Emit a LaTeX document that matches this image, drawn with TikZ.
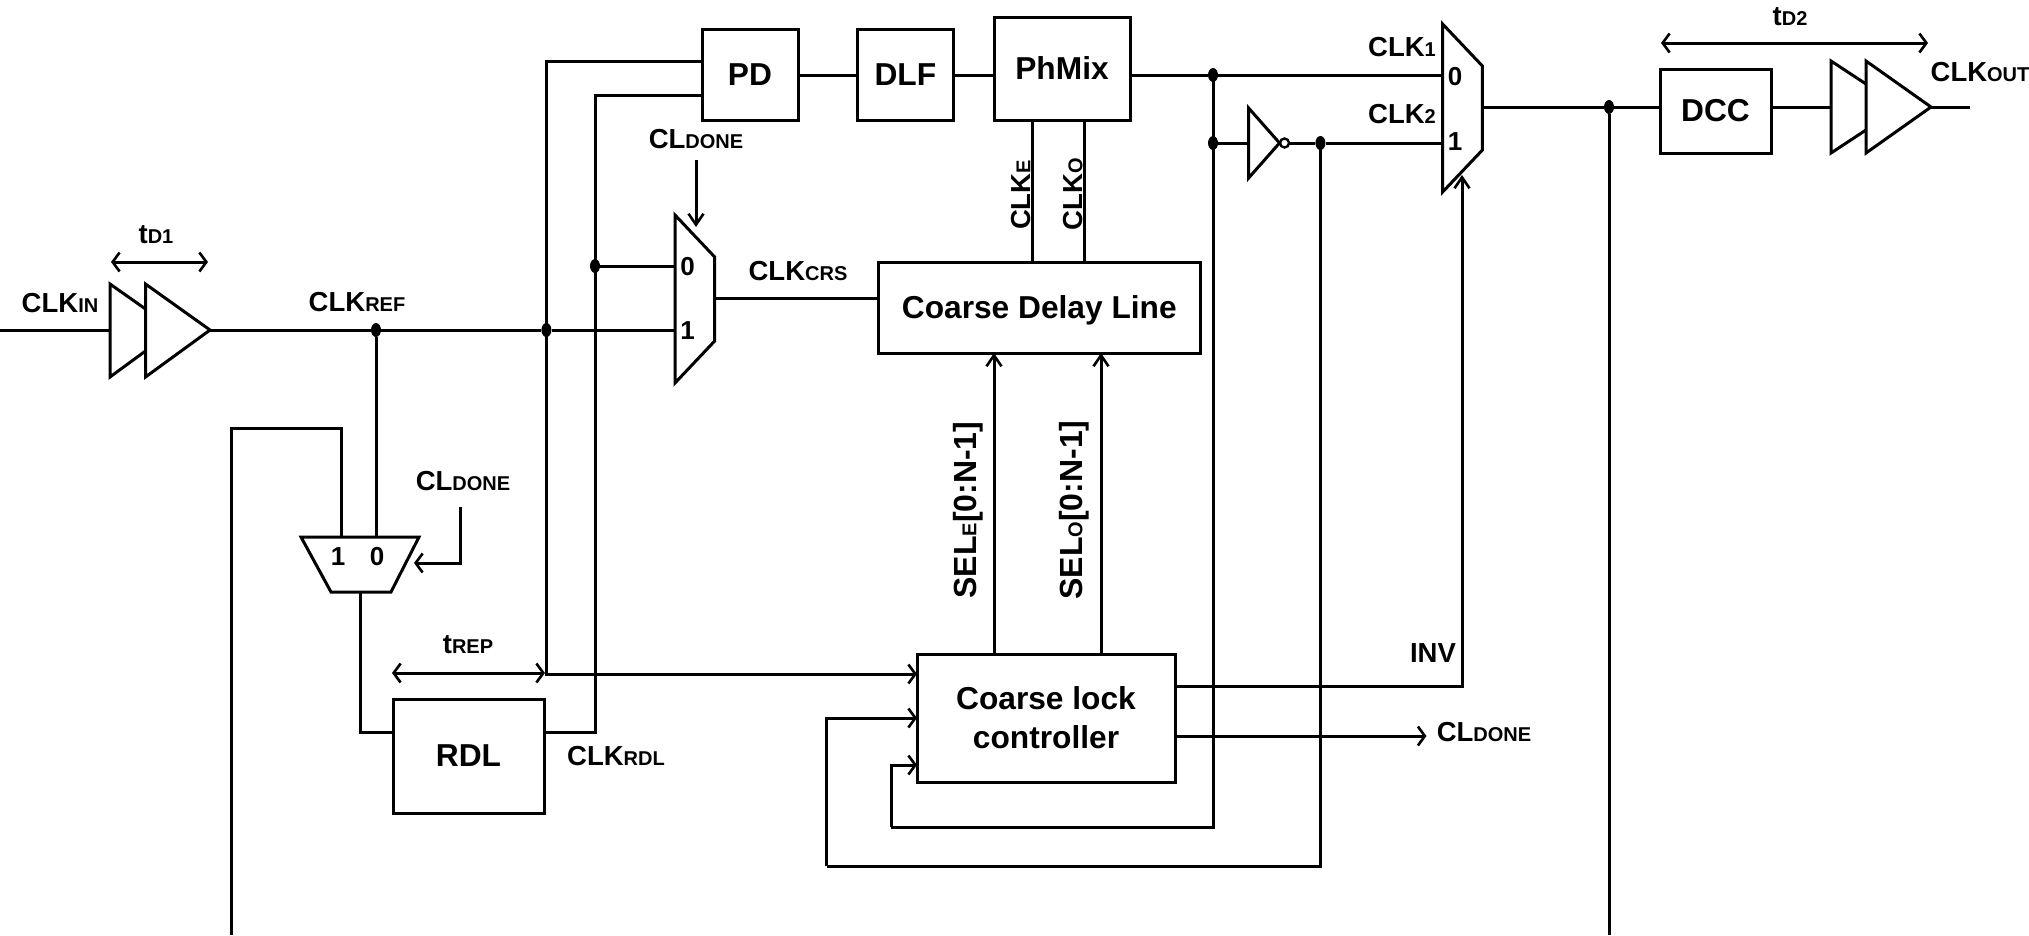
\documentclass[tikz,border=0pt]{standalone}
\usepackage{fontspec}
\setmainfont{Liberation Sans}
\usetikzlibrary{arrows.meta,shapes.geometric}
\newcommand{\sm}[1]{{\fontsize{20}{20}\selectfont #1}}
\tikzset{
  wire/.style={line width=3pt,line join=miter},
  barb/.tip={Straight Barb[length=7pt,width=19pt,line width=2.6pt]},
  barbup/.tip={Straight Barb[length=11pt,width=15pt,line width=2.6pt]},
  sig/.style={wire,-barb},
  sigup/.style={wire,-barbup},
  dbl/.style={wire,barb-barb},
  blockbox/.style={draw,line width=3pt,inner sep=0pt,outer sep=0pt,align=center,
    font=\fontsize{31.7}{39}\selectfont\bfseries},
  lbl/.style={inner sep=0pt,font=\fontsize{27.5}{30}\selectfont\bfseries},
  sellbl/.style={inner sep=0pt,font=\fontsize{32}{34}\selectfont\bfseries},
  digit/.style={inner sep=0pt,font=\fontsize{26}{30}\selectfont\bfseries},
  junction/.style={ellipse,fill=black,inner sep=0pt,minimum width=10pt,minimum height=14pt},
  gate/.style={wire,line join=miter,miter limit=4}
}
\begin{document}
\begin{tikzpicture}[x=1pt,y=-1pt]
\useasboundingbox (0,0) rectangle (2029,935);
\fill[white] (0,0) rectangle (2029,935);

% blocks
\node[blockbox,minimum width=96pt,minimum height=91pt] (pd) at (750,74.5) {PD};
\node[blockbox,minimum width=96.6pt,minimum height=91pt] (dlf) at (905.3,74.5) {DLF};
\node[blockbox,minimum width=136pt,minimum height=103pt] (phmix) at (1062,68.5) {PhMix};
\node[blockbox,minimum width=321.4pt,minimum height=91pt] (coarse) at (1039.3,307.5) {\raisebox{-2.5pt}[\height][\depth]{Coarse Delay Line}};
\node[blockbox,minimum width=258pt,minimum height=128pt] (lock) at (1046,718) {Coarse lock\\controller};
\node[blockbox,minimum width=151pt,minimum height=114pt] (rdl) at (468.5,756) {RDL};
\node[blockbox,minimum width=111pt,minimum height=84pt] (dcc) at (1715.5,111) {DCC};

% junction dots
\node[junction] (dref) at (376,330) {};
\node[junction] (dpd) at (546.4,330) {};
\node[junction] (dsel) at (595,266) {};
\node[junction] (dclka) at (1213,75) {};
\node[junction] (dclkb) at (1213,143) {};
\node[junction] (dinv) at (1320.4,143) {};
\node[junction] (dout) at (1609,107) {};

% free ends and gate pins
\coordinate (clkin) at (0,330);
\coordinate (bufa) at (110,330);
\coordinate (bufaout) at (210,330);
\coordinate (maina) at (675,266);
\coordinate (mainb) at (675,330);
\coordinate (mainout) at (714.7,298);
\coordinate (mainsel) at (696,227);
\coordinate (mainctl) at (696,160);
\coordinate (lowa) at (341.5,537);
\coordinate (lowb) at (376,537);
\coordinate (lowout) at (360,593);
\coordinate (lowsel) at (414,563);
\coordinate (lowctl) at (460,507);
\coordinate (tl) at (231,428);
\coordinate (bl) at (231,935);
\coordinate (br) at (1609,935);
\coordinate (fba) at (891,827);
\coordinate (fbb) at (826.5,866);
\coordinate (outa) at (1442.6,75);
\coordinate (outb) at (1442.6,143);
\coordinate (outout) at (1482.4,107);
\coordinate (outsel) at (1462,175);
\coordinate (invin) at (1248.6,143);
\coordinate (bufb) at (1831,107);
\coordinate (bufbout) at (1931,107);
\coordinate (clkout) at (1969.5,107);
\coordinate (donetip) at (1426.5,736);
\coordinate (trepl) at (392,673);
\coordinate (trepr) at (545,673);
\coordinate (tda) at (111,262);
\coordinate (tdb) at (208,262);
\coordinate (tdc) at (1661,43);
\coordinate (tdd) at (1928,43);

% gates
\draw[gate] (145.5,309) -- (110,284) -- (110,377) -- (145.5,351);
\draw[gate] (145.5,284) -- (bufaout) -- (145.5,377) -- cycle;
\draw[gate] (675,215) -- (714.7,257) -- (714.7,341) -- (675,383) -- cycle;
\draw[gate] (301,537) -- (419,537) -- (391,592) -- (331,592) -- cycle;
\draw[gate] (1442.6,24) -- (1482.4,66) -- (1482.4,150) -- (1442.6,192) -- cycle;
\draw[gate] (invin |- 0,108) -- (1279.5,143) -- (invin |- 0,178) -- cycle;
\node[draw,circle,line width=2.4pt,inner sep=0pt,outer sep=0pt,minimum size=9pt] (bubble) at (1284.5,143) {};
\draw[gate] (1866,84) -- (1831,61) -- (1831,153) -- (1866,130);
\draw[gate] (1866,61) -- (bufbout) -- (1866,153) -- cycle;

% connectors
\draw[wire] (clkin) -- (bufa);
\draw[wire] (bufaout) -- (dref) -- (dpd) -- (mainb);
\draw[wire] (dref) -- (lowb);
\draw[wire] (lowa) |- (tl) -- (bl);
\draw[wire] (lowout) |- (rdl.west |- 0,732);
\draw[sig] (lowctl) |- (lowsel);
\draw[wire] (pd.west |- 0,61) -| (dpd.center);
\draw[sig] (dpd.center) |- (lock.west |- 0,674);
\draw[wire] (pd.west |- 0,95.7) -| (dsel.center);
\draw[wire] (dsel.center) |- (rdl.east |- 0,732);
\draw[wire] (dsel) -- (maina);
\draw[sigup] (mainctl) -- (mainsel);
\draw[wire] (mainout) -- (coarse.west |- 0,298);
\draw[wire] (pd.east |- 0,75) -- (dlf.west |- 0,75);
\draw[wire] (dlf.east |- 0,75) -- (phmix.west |- 0,75);
\draw[wire] (phmix.east |- 0,75) -- (dclka) -- (outa);
\draw[wire] (1032.6,0 |- phmix.south) -- (1032.6,0 |- coarse.north);
\draw[wire] (1084,0 |- phmix.south) -- (1084,0 |- coarse.north);
\draw[sigup] (994,0 |- lock.north) -- (994,0 |- coarse.south);
\draw[sigup] (1101,0 |- lock.north) -- (1101,0 |- coarse.south);
\draw[wire] (dclkb) -- (invin);
\draw[wire] (bubble) -- (dinv) -- (outb);
\draw[wire] (dclka.center) |- (fba);
\draw[sig] (fba) |- (lock.west |- 0,765);
\draw[wire] (dinv.center) |- (fbb);
\draw[sig] (fbb) |- (lock.west |- 0,718);
\draw[sigup] (lock.east |- 0,686) -| (outsel);
\draw[sig] (lock.east |- 0,736) -- (donetip);
\draw[wire] (outout) -- (dout) -- (dcc.west |- 0,107);
\draw[wire] (dout) -- (br);
\draw[wire] (dcc.east |- 0,107) -- (bufb);
\draw[wire] (bufbout) -- (clkout);
\draw[dbl] (tda) -- (tdb);
\draw[dbl] (tdc) -- (tdd);
\draw[dbl] (trepl) -- (trepr);

% labels
\node[lbl] (lclkin) at (60,303) {CLK\sm{IN}};
\node[lbl] (ltda) at (156,235) {t\sm{D1}};
\node[lbl] (lclkref) at (357,302) {CLK\sm{REF}};
\node[lbl] (ldonea) at (463,481) {CL\sm{DONE}};
\node[lbl] (ldoneb) at (696,139) {CL\sm{DONE}};
\node[lbl] (ldonec) at (1484,732) {CL\sm{DONE}};
\node[lbl] (lcrs) at (798,271) {CLK\sm{CRS}};
\node[lbl] (lrdl) at (616,756) {CLK\sm{RDL}};
\node[lbl] (ltrep) at (468,645) {t\sm{REP}};
\node[lbl] (linv) at (1433,653) {INV};
\node[lbl] (lclka) at (1402,47) {CLK\sm{1}};
\node[lbl] (lclkb) at (1402,114) {CLK\sm{2}};
\node[lbl] (ltdb) at (1790,17) {t\sm{D2}};
\node[lbl] (lout) at (1980,72) {CLK\sm{OUT}};
\node[lbl,rotate=90] (lclke) at (1021,195) {CLK\sm{E}};
\node[lbl,rotate=90] (lclko) at (1073,194) {CLK\sm{O}};
\node[sellbl,rotate=90] (lsele) at (968,510) {SEL\sm{E}[0:N-1]};
\node[sellbl,rotate=90] (lselo) at (1074,510) {SEL\sm{O}[0:N-1]};

% mux input digits
\node[digit] (da0) at (687.5,267) {0};
\node[digit] (da1) at (687.5,331) {1};
\node[digit] (db1) at (338,557) {1};
\node[digit] (db0) at (377,557) {0};
\node[digit] (dc0) at (1455,77) {0};
\node[digit] (dc1) at (1455,142) {1};
\end{tikzpicture}
\end{document}
